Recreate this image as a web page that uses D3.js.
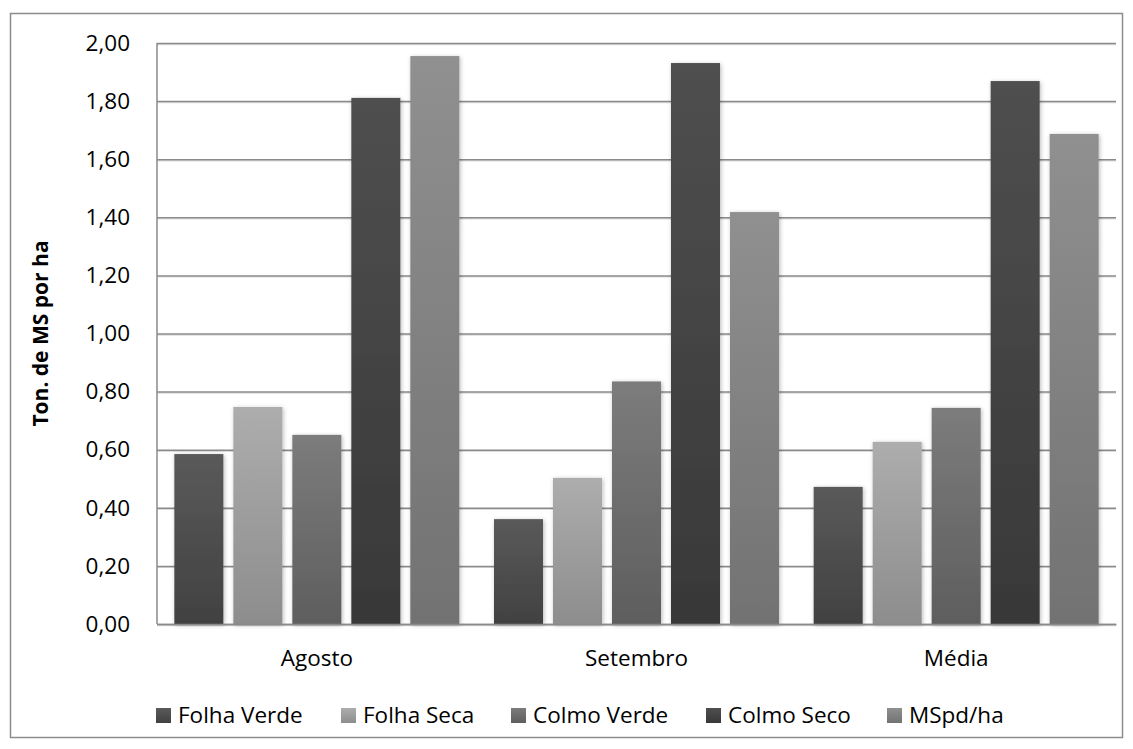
<!DOCTYPE html>
<html>
<head>
<meta charset="utf-8">
<script src="https://cdn.jsdelivr.net/npm/d3@7"></script>
<style>
  html, body { margin: 0; padding: 0; background: #ffffff; }
  svg { display: block; }
  text { font-family: "Open Sans", "Noto Sans", sans-serif; fill: #000; }
</style>
</head>
<body>
<svg id="chart" width="1133" height="749"></svg>
<script>
// Dry matter per hectare by forage component and month
const categories = ["Agosto", "Setembro", "Média"];
const seriesNames = ["Folha Verde", "Folha Seca", "Colmo Verde", "Colmo Seco", "MSpd/ha"];
const folhaVerde = [0.585, 0.361, 0.472];
const folhaSeca  = [0.747, 0.503, 0.627];
const colmoVerde = [0.651, 0.835, 0.744];
const colmoSeco  = [1.811, 1.931, 1.869];
const msPdHa     = [1.955, 1.418, 1.687];
const yTicks = [0, 0.2, 0.4, 0.6, 0.8, 1.0, 1.2, 1.4, 1.6, 1.8, 2.0];
const yTitle = "Ton. de MS por ha";

// gradient stops (top, bottom) for each series
const fills = [
  ["#5a5a5a", "#414141"],
  ["#adadad", "#8d8d8d"],
  ["#7c7c7c", "#5e5e5e"],
  ["#4f4f4f", "#383838"],
  ["#909090", "#727272"]
];

const seriesValues = [folhaVerde, folhaSeca, colmoVerde, colmoSeco, msPdHa];

const svg = d3.select("#chart");
const plot = { left: 157, right: 1116, top: 43, bottom: 624 };

const defs = svg.append("defs");
fills.forEach((f, i) => {
  const g = defs.append("linearGradient")
    .attr("id", "grad" + i)
    .attr("x1", 0).attr("y1", 0).attr("x2", 0).attr("y2", 1);
  g.append("stop").attr("offset", "0%").attr("stop-color", f[0]);
  g.append("stop").attr("offset", "100%").attr("stop-color", f[1]);
});
const shadow = defs.append("filter").attr("id", "barShadow")
  .attr("x", "-30%").attr("y", "-10%").attr("width", "160%").attr("height", "120%");
shadow.append("feDropShadow")
  .attr("dx", 1).attr("dy", 1).attr("stdDeviation", 2.2)
  .attr("flood-color", "#000").attr("flood-opacity", 0.28);

// outer chart frame
svg.append("rect")
  .attr("x", 10.5).attr("y", 13.5)
  .attr("width", 1112).attr("height", 724)
  .attr("fill", "none").attr("stroke", "#8c8c8c").attr("stroke-width", 1.5);

const x0 = d3.scaleBand().domain(categories)
  .range([plot.left, plot.right])
  .paddingInner(0.1085).paddingOuter(0.05425);
const x1 = d3.scaleBand().domain(seriesNames)
  .range([0, x0.bandwidth()])
  .paddingInner(10 / 59);
const y = d3.scaleLinear().domain([0, 2]).range([plot.bottom, plot.top]);

const fmt = d => d.toFixed(2).replace(".", ",");

// horizontal gridlines with a faint shadow beneath
const gridShadow = svg.append("g");
gridShadow.selectAll("line").data(yTicks).join("line")
  .attr("x1", plot.left).attr("x2", plot.right)
  .attr("y1", d => y(d) + 1.6).attr("y2", d => y(d) + 1.6)
  .attr("stroke", "#dcdcdc").attr("stroke-width", 1.2);

const yAxis = svg.append("g")
  .attr("transform", `translate(${plot.left},0)`)
  .call(d3.axisLeft(y).tickValues(yTicks).tickFormat(fmt)
    .tickSize(-(plot.right - plot.left)).tickPadding(27));
yAxis.select(".domain").remove();
yAxis.selectAll(".tick line").attr("stroke", "#8a8a8a").attr("stroke-width", 1.5);
yAxis.selectAll(".tick text")
  .attr("font-size", 22.5)
  .attr("font-family", "Open Sans")
  .attr("fill", "#000");

// left edge of the plot area
svg.append("line")
  .attr("x1", plot.left).attr("x2", plot.left)
  .attr("y1", plot.top).attr("y2", plot.bottom)
  .attr("stroke", "#8a8a8a").attr("stroke-width", 1.5);

// bars
const groups = svg.append("g").selectAll("g").data(categories).join("g")
  .attr("transform", d => `translate(${x0(d)},0)`);
groups.selectAll("rect")
  .data((c, ci) => seriesNames.map((s, si) => ({ s, si, v: seriesValues[si][ci] })))
  .join("rect")
  .attr("x", d => x1(d.s))
  .attr("width", x1.bandwidth())
  .attr("y", d => y(d.v))
  .attr("height", d => y(0) - y(d.v))
  .attr("fill", d => `url(#grad${d.si})`)
  .attr("filter", "url(#barShadow)");

// category axis
const xAxis = svg.append("g")
  .attr("transform", `translate(0,${plot.bottom})`)
  .call(d3.axisBottom(x0).tickSize(0).tickPadding(26));
xAxis.select(".domain").attr("stroke", "#8a8a8a").attr("stroke-width", 1.5);
xAxis.selectAll(".tick text")
  .attr("font-size", 22.5)
  .attr("font-family", "Open Sans")
  .attr("fill", "#000");

// axis title
svg.append("text")
  .attr("transform", `translate(48,${(plot.top + plot.bottom) / 2}) rotate(-90)`)
  .attr("text-anchor", "middle")
  .attr("font-size", 21)
  .attr("font-weight", "bold")
  .text(yTitle);

// legend
const legendX = [156, 341, 511, 706, 887];
const legend = svg.append("g").attr("transform", "translate(0,708)");
const items = legend.selectAll("g").data(seriesNames).join("g")
  .attr("transform", (d, i) => `translate(${legendX[i]},0)`);
items.append("rect")
  .attr("width", 15).attr("height", 15)
  .attr("fill", (d, i) => `url(#grad${i})`);
items.append("text")
  .attr("x", 22).attr("y", 15)
  .attr("font-size", 22.5)
  .text(d => d);
</script>
</body>
</html>
